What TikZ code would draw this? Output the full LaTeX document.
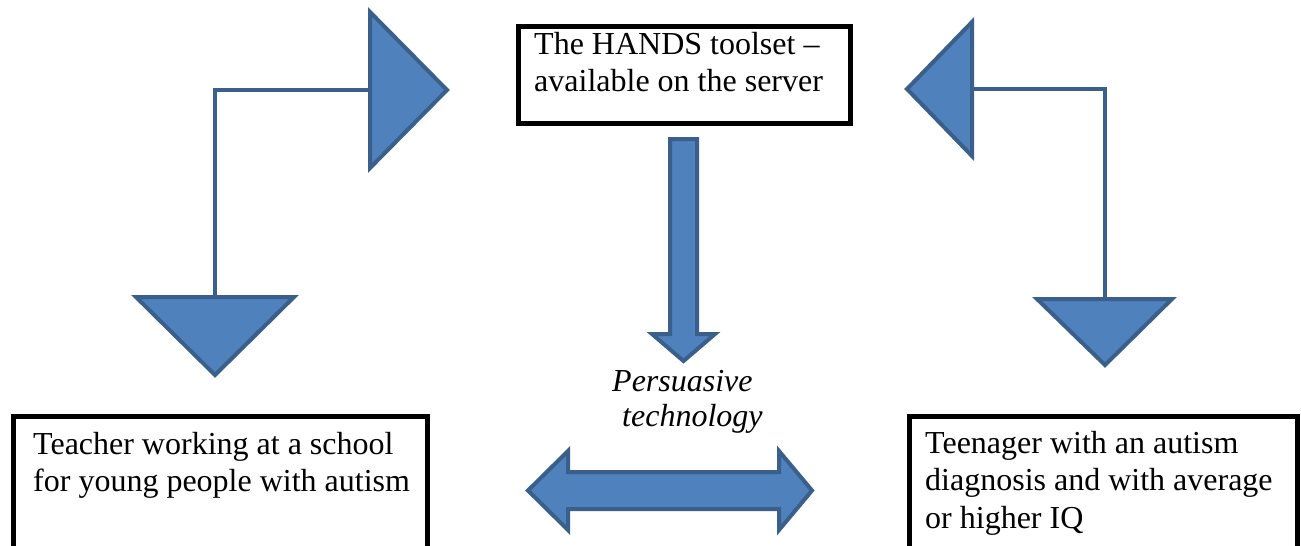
\documentclass[tikz,border=0pt]{standalone}
\usepackage{fontspec}
\setmainfont{Liberation Serif}
\definecolor{arrfill}{HTML}{4F81BD}
\definecolor{arrline}{HTML}{3A5F8B}
\tikzset{
  blockarrow/.style={fill=arrfill, draw=arrline, line width=4pt, line join=miter},
  bentline/.style={draw=arrline, line width=4.5pt, line join=miter},
  boxframe/.style={draw=black, line width=4.5pt, fill=white, rectangle, inner sep=0pt, anchor=north west},
  boxtext/.style={font=\fontsize{32}{37.5}\selectfont, align=left, inner sep=0pt, anchor=north west},
}
\begin{document}
\begin{tikzpicture}[x=1pt, y=-1pt]
\clip (0,0) rectangle (1301,546);
\fill[white] (0,0) rectangle (1301,546);

% boxes
\node[boxframe, minimum width=332pt, minimum height=97pt] (topbox) at (516,24) {};
\node[boxtext] (toptext) at (534,32) {The HANDS toolset –\\available on the server};

\node[boxframe, minimum width=414pt, minimum height=140pt] (leftbox) at (11,414) {};
\node[boxtext] (lefttext) at (33,432) {Teacher working at a school\\for young people with autism};

\node[boxframe, minimum width=388pt, minimum height=140pt] (rightbox) at (907,414) {};
\node[boxtext] (righttext) at (925,431) {Teenager with an autism\\diagnosis and with average\\or higher IQ};

% left bent arrow
\draw[bentline] (370,90) -- (215,90) -- (215,297);
\path[blockarrow] (370,12) -- (447,90) -- (370,168) -- cycle;
\path[blockarrow] (136,297) -- (294,297) -- (215,375) -- cycle;

% right bent arrow
\draw[bentline] (972,89) -- (1105,89) -- (1105,299);
\path[blockarrow] (972,22) -- (907,89) -- (972,156) -- cycle;
\path[blockarrow] (1037,299) -- (1172,299) -- (1105,365) -- cycle;

% central down arrow
\path[blockarrow] (670,139) -- (697,139) -- (697,334) -- (715,334) -- (683.5,361)
  -- (652,334) -- (670,334) -- cycle;

% persuasive technology
\node[font=\itshape\fontsize{32}{35}\selectfont, align=left, inner sep=0pt, anchor=north west]
  (persuasive) at (612,370) {Persuasive\\\hspace*{10pt}technology};

% double arrow
\path[blockarrow] (528,490.5) -- (568,451) -- (568,472) -- (779,472) -- (779,451)
  -- (812,490.5) -- (779,530) -- (779,509) -- (568,509) -- (568,530) -- cycle;
\end{tikzpicture}
\end{document}
